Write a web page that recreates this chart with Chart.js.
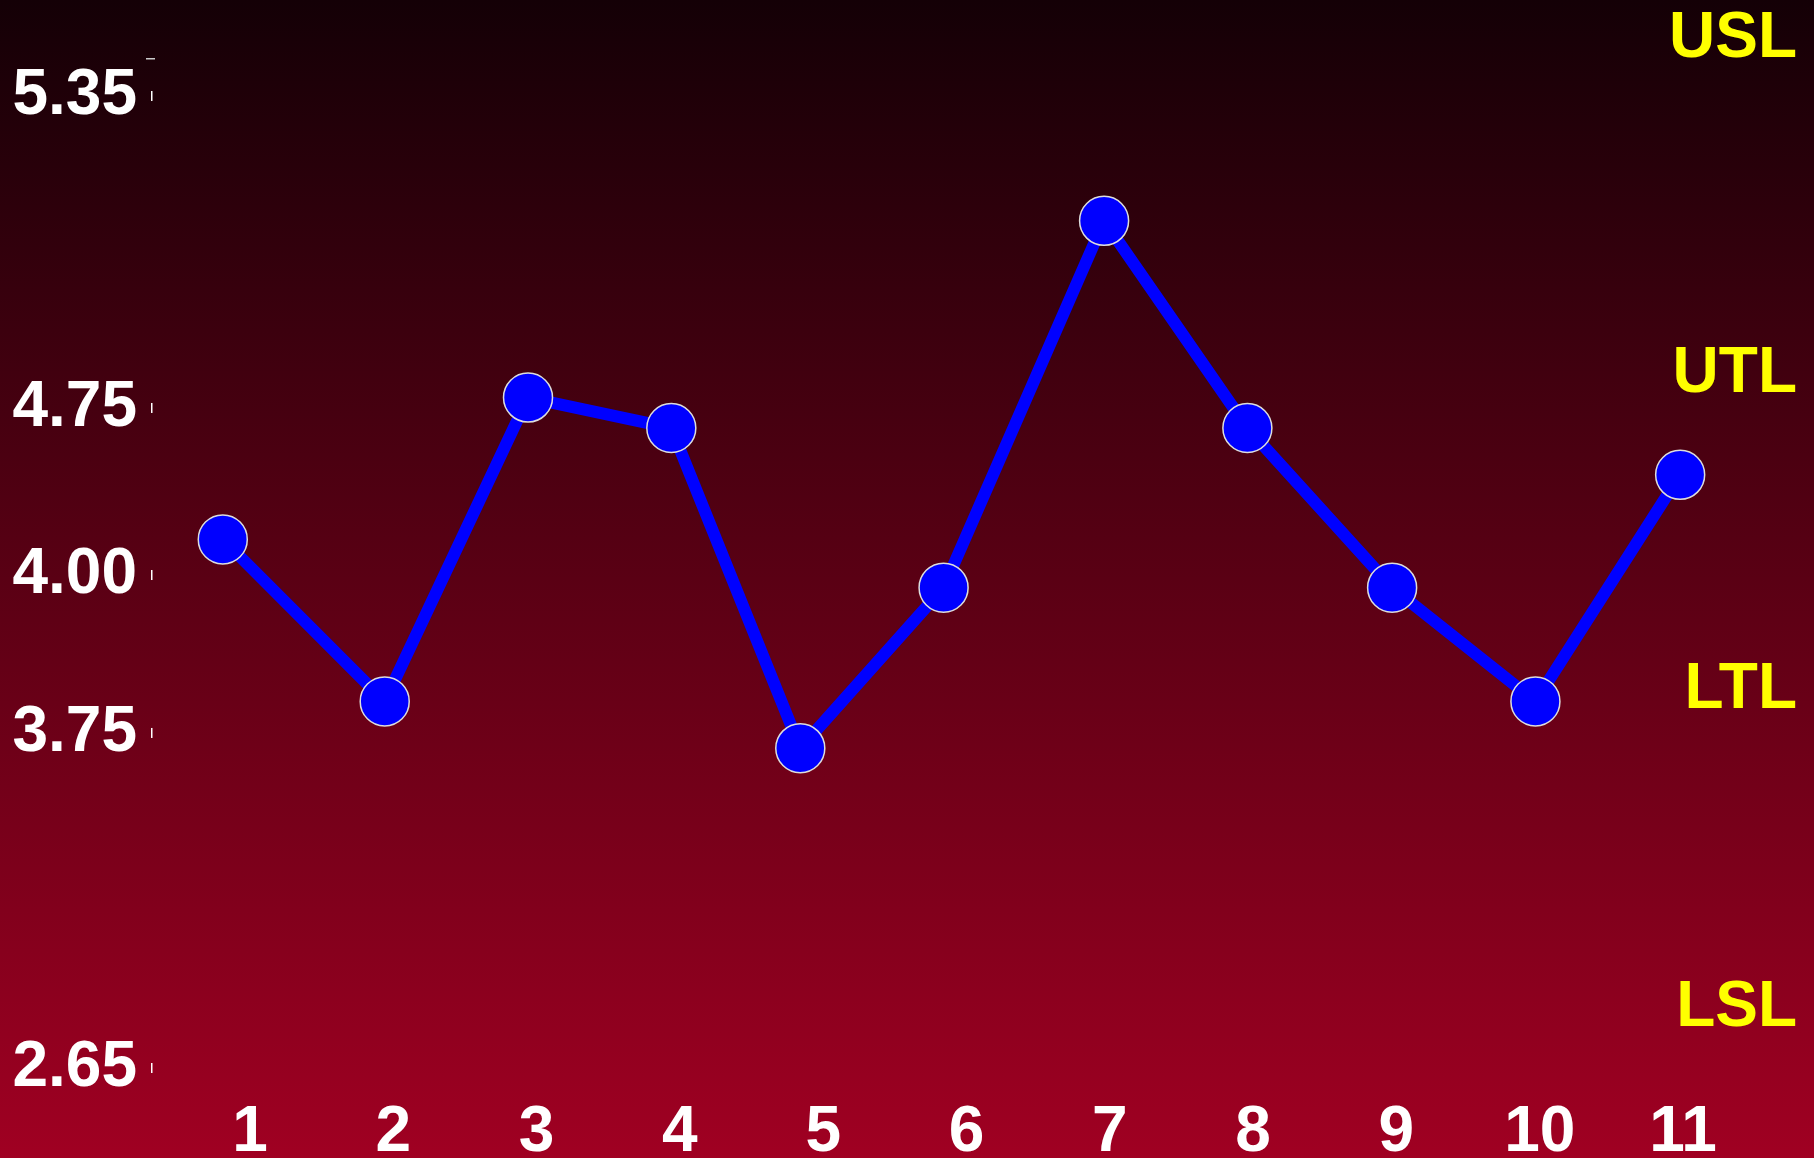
<!DOCTYPE html>
<html>
<head>
<meta charset="utf-8">
<script src="https://cdn.jsdelivr.net/npm/chart.js@4/dist/chart.umd.min.js"></script>
<style>
  html, body { margin: 0; padding: 0; background: #140006; }
  #wrap { width: 1814px; height: 1158px; position: relative; }
</style>
</head>
<body>
<div id="wrap"><canvas id="myChart"></canvas></div>
<script>
// sample numbers on the x axis
const samples = [1, 2, 3, 4, 5, 6, 7, 8, 9, 10, 11];
// where each point sits along the x axis
const sampleX = [0.81, 1.94, 2.94, 3.94, 4.84, 5.84, 6.96, 7.96, 8.97, 9.97, 10.98];
// measured values
const values = [4.16, 3.80, 4.77, 4.66, 3.70, 3.98, 5.11, 4.66, 3.98, 3.80, 4.45];
// y axis tick values and labels
const yTicks = [2.65, 3.75, 4.00, 4.75, 5.35];
const yTickLabels = ['2.65', '3.75', '4.00', '4.75', '5.35'];
// limit names on the right
const limitNames = ['USL', 'UTL', 'LTL', 'LSL'];

// the y axis is not linear: each tick sits at its own height (fraction of axis)
const yTickPlace = [0, 0.3137, 0.4616, 0.618, 0.9101];
const limitPlace = [0.033, 0.347, 0.643, 0.940];

function toDecimal(v) {
    let i = 0;
    while (i < yTicks.length - 2 && v > yTicks[i + 1]) i++;
    const t = (v - yTicks[i]) / (yTicks[i + 1] - yTicks[i]);
    return yTickPlace[i] + t * (yTickPlace[i + 1] - yTickPlace[i]);
}
function fromDecimal(d) {
    let i = 0;
    while (i < yTickPlace.length - 2 && d > yTickPlace[i + 1]) i++;
    const t = (d - yTickPlace[i]) / (yTickPlace[i + 1] - yTickPlace[i]);
    return yTicks[i] + t * (yTicks[i + 1] - yTicks[i]);
}

class PiecewiseScale extends Chart.LinearScale {
    buildTicks() {
        return yTicks.map(v => ({ value: v }));
    }
    getPixelForValue(value) {
        return this.getPixelForDecimal(toDecimal(value));
    }
    getValueForPixel(pixel) {
        return fromDecimal(this.getDecimalForPixel(pixel));
    }
}
PiecewiseScale.id = 'piecewise';
PiecewiseScale.defaults = {};
Chart.register(PiecewiseScale);

const background = {
    id: 'background',
    beforeDraw(chart) {
        const c = chart.ctx;
        const g = c.createLinearGradient(0, 0, 0, chart.height);
        g.addColorStop(0, '#140006');
        g.addColorStop(1, '#a00022');
        c.save();
        c.fillStyle = g;
        c.fillRect(0, 0, chart.width, chart.height);
        c.restore();
    }
};

const extras = {
    id: 'extras',
    afterDraw(chart) {
        const c = chart.ctx;
        const y = chart.scales.y;
        const area = chart.chartArea;
        c.save();
        // little tick marks beside the y labels
        c.fillStyle = '#ffffff';
        yTicks.forEach(v => {
            c.fillRect(151, y.getPixelForValue(v) - 5, 1.5, 10);
        });
        c.fillStyle = '#cccccc';
        c.fillRect(146, 58, 9, 1.5);
        // limit names
        c.fillStyle = '#ffff00';
        c.font = 'bold 64px "Liberation Sans", Arial, sans-serif';
        c.textAlign = 'right';
        c.textBaseline = 'middle';
        limitNames.forEach((name, i) => {
            c.fillText(name, 1797, area.top + limitPlace[i] * (area.bottom - area.top) + 4);
        });
        c.restore();
    }
};

Chart.defaults.font.family = '"Liberation Sans", Arial, sans-serif';

const points = [];
for (let i = 0; i < values.length; i++) {
    points.push({ x: sampleX[i], y: values[i] });
}

function noEdgePadding(scale) {
    scale.paddingTop = 0;
    scale.paddingBottom = 0;
    scale.paddingLeft = 0;
    scale.paddingRight = 0;
}

new Chart(document.getElementById('myChart'), {
    type: 'line',
    data: {
        datasets: [{
            data: points,
            borderColor: '#0000ff',
            borderWidth: 12,
            pointRadius: 24.5,
            pointBackgroundColor: '#0000ff',
            pointBorderColor: '#dddddd',
            pointBorderWidth: 1.5,
            tension: 0,
            clip: false
        }]
    },
    options: {
        responsive: true,
        maintainAspectRatio: false,
        animation: false,
        layout: { padding: 0, autoPadding: false },
        plugins: {
            legend: { display: false },
            tooltip: { enabled: false }
        },
        scales: {
            x: {
                type: 'linear',
                min: 0.337,
                max: 11.914,
                afterBuildTicks: (scale) => {
                    scale.ticks = samples.map(v => ({ value: v }));
                },
                afterFit: (scale) => { scale.height = 90; noEdgePadding(scale); },
                grid: { display: false, drawTicks: false },
                border: { display: false },
                ticks: {
                    color: '#ffffff',
                    font: { size: 64, weight: 'bold' },
                    padding: 27,
                    maxRotation: 0,
                    autoSkip: false,
                    callback: (v) => String(v)
                }
            },
            y: {
                type: 'piecewise',
                position: 'left',
                min: 2.65,
                max: 5.5,
                afterFit: (scale) => { scale.width = 155; noEdgePadding(scale); },
                grid: { display: false, drawTicks: false },
                border: { display: false },
                ticks: {
                    color: '#ffffff',
                    font: { size: 64, weight: 'bold' },
                    padding: 18,
                    autoSkip: false,
                    callback: (v, i) => yTickLabels[i]
                }
            }
        }
    },
    plugins: [background, extras]
});
</script>
</body>
</html>
